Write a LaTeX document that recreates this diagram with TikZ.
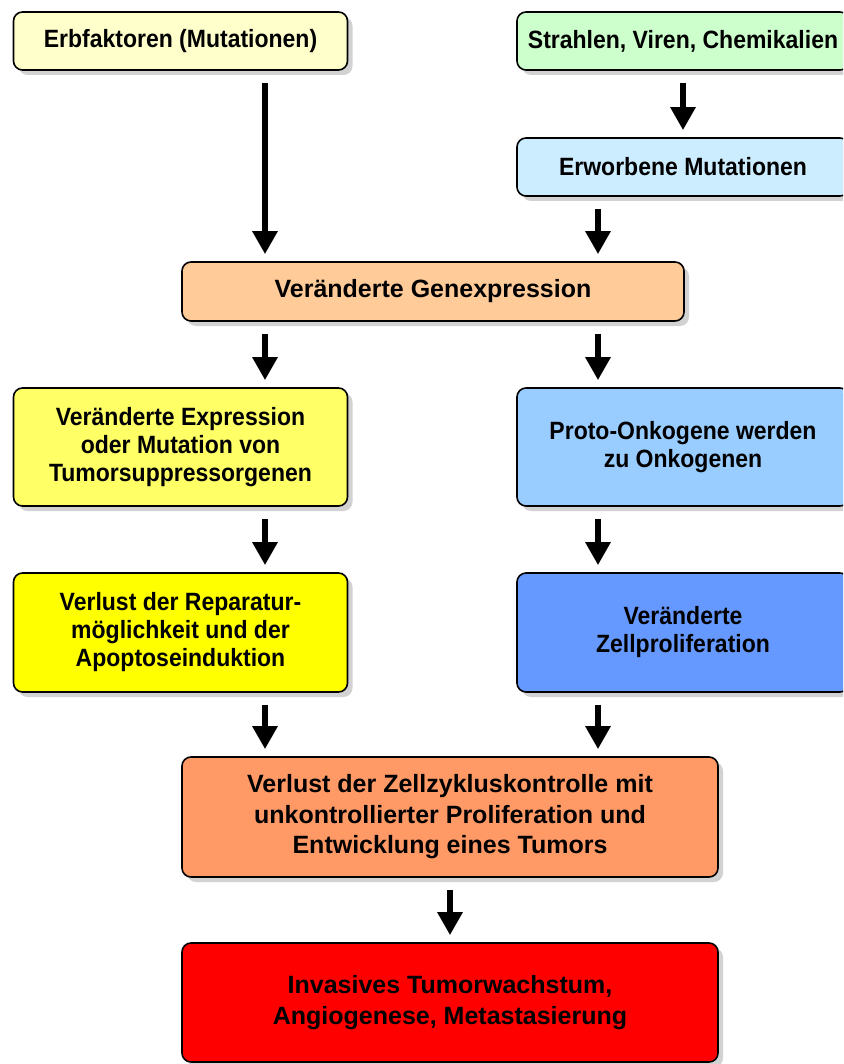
\documentclass[tikz,border=0pt]{standalone}
\usepackage{fontspec}
\setmainfont{Liberation Sans}
\newfontfamily\narrowfont[FakeStretch=0.92]{Liberation Sans}
\usetikzlibrary{arrows.meta,shadows,calc}
\definecolor{erbcol}{HTML}{FFFFCC}
\definecolor{strahlcol}{HTML}{CCFFCC}
\definecolor{erwcol}{HTML}{CCECFF}
\definecolor{gencol}{HTML}{FFCC99}
\definecolor{exprcol}{HTML}{FFFF66}
\definecolor{protocol}{HTML}{99CCFF}
\definecolor{verlcol}{HTML}{FFFF00}
\definecolor{zellcol}{HTML}{6699FF}
\definecolor{zykcol}{HTML}{FF9966}
\definecolor{invcol}{HTML}{FF0000}
\tikzset{
  box/.style={draw=black, line width=1.6pt, rounded corners=9pt, align=center,
    inner sep=0pt, minimum width=334pt,
    drop shadow={shadow xshift=5pt, shadow yshift=-5pt, fill=black!35}},
  narrow/.style={box, font=\narrowfont\bfseries\fontsize{25}{28}\selectfont},
  wide/.style={box, font=\bfseries\fontsize{25}{30.5}\selectfont},
  arr/.style={line width=6pt, -{Triangle[width=24pt,length=23pt]}}
}
\begin{document}
\begin{tikzpicture}[x=1pt,y=-1pt]
  \useasboundingbox (0,0) rectangle (843,1064);
  \clip (0,0) rectangle (843,1064);
  \fill[white] (0,0) rectangle (843,1064);
  \coordinate (lx) at (265,0);
  \coordinate (rx) at (598,0);
  % boxes
  \node[narrow, fill=erbcol, minimum height=58pt] (erb) at (180.5,41) {Erbfaktoren (Mutationen)};
  \node[narrow, fill=strahlcol, minimum height=58pt, minimum width=332pt] (strahl) at (683,41) {Strahlen, Viren, Chemikalien};
  \node[narrow, fill=erwcol, minimum height=58pt, minimum width=332pt] (erw) at (683,167) {Erworbene Mutationen};
  \node[wide, fill=gencol, minimum height=59pt, minimum width=502pt] (gen) at (433,291.5) {Veränderte Genexpression};
  \node[narrow, fill=exprcol, minimum height=118pt] (expr) at (180.5,447) {Veränderte Expression\\oder Mutation von\\Tumorsuppressorgenen};
  \node[narrow, fill=protocol, minimum height=118pt, minimum width=332pt] (proto) at (683,447) {Proto-Onkogene werden\\zu Onkogenen};
  \node[narrow, fill=verlcol, minimum height=119pt] (verl) at (180.5,632.5) {Verlust der Reparatur-\\möglichkeit und der\\Apoptoseinduktion};
  \node[narrow, fill=zellcol, minimum height=119pt, minimum width=332pt] (zell) at (683,632.5) {Veränderte\\Zellproliferation};
  \node[wide, fill=zykcol, minimum height=120pt, minimum width=536pt] (zyk) at (450,817) {Verlust der Zellzykluskontrolle mit\\unkontrollierter Proliferation und\\Entwicklung eines Tumors};
  \node[wide, fill=invcol, minimum height=119pt, minimum width=536pt] (inv) at (450,1002.5) {Invasives Tumorwachstum,\\Angiogenese, Metastasierung};
  % arrows
  \draw[arr] ($(erb.south -| lx)+(0,12)$) -- ($(gen.north -| lx)+(0,-7)$);
  \draw[arr] ($(strahl.south)+(0,12)$) -- ($(erw.north)+(0,-7)$);
  \draw[arr] ($(erw.south -| rx)+(0,12)$) -- ($(gen.north -| rx)+(0,-7)$);
  \draw[arr] ($(gen.south -| lx)+(0,12)$) -- ($(expr.north -| lx)+(0,-7)$);
  \draw[arr] ($(gen.south -| rx)+(0,12)$) -- ($(proto.north -| rx)+(0,-7)$);
  \draw[arr] ($(expr.south -| lx)+(0,12)$) -- ($(verl.north -| lx)+(0,-7)$);
  \draw[arr] ($(proto.south -| rx)+(0,12)$) -- ($(zell.north -| rx)+(0,-7)$);
  \draw[arr] ($(verl.south -| lx)+(0,12)$) -- ($(zyk.north -| lx)+(0,-7)$);
  \draw[arr] ($(zell.south -| rx)+(0,12)$) -- ($(zyk.north -| rx)+(0,-7)$);
  \draw[arr] ($(zyk.south)+(0,12)$) -- ($(inv.north)+(0,-7)$);
\end{tikzpicture}
\end{document}
